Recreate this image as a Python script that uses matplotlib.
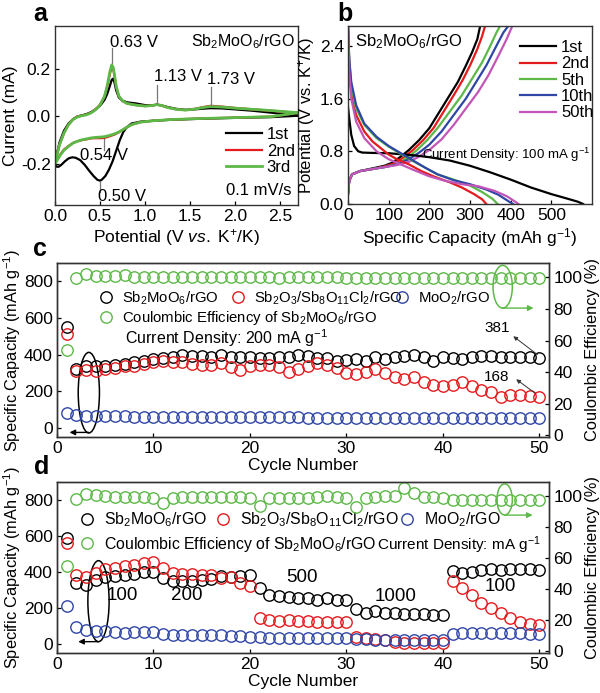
import numpy as np
import matplotlib
matplotlib.use('Agg')
import matplotlib.pyplot as plt
from matplotlib.patches import Ellipse
from matplotlib.lines import Line2D
from matplotlib.legend import Legend

plt.rcParams['font.family'] = ['Liberation Sans', 'DejaVu Sans']
plt.rcParams['mathtext.fontset'] = 'custom'
plt.rcParams['mathtext.rm'] = 'Liberation Sans'
plt.rcParams['mathtext.it'] = 'Liberation Sans:italic'
plt.rcParams['mathtext.bf'] = 'Liberation Sans:bold'
plt.rcParams['axes.linewidth'] = 1.0
plt.rcParams['axes.edgecolor'] = '#333333'

BLACK = 'black'
RED = '#e41a1c'
GREEN = '#5cb947'
BLUE = '#2f46a6'
MAG = '#c155b8'

# ---------------- panel a data (CV) ----------------
cv1_down_v = [2.7, 2.4, 2.0, 1.6, 1.3, 1.1, 0.95, 0.85, 0.8, 0.76, 0.72, 0.68, 0.64, 0.6, 0.56, 0.52, 0.5,
              0.47, 0.43, 0.38, 0.33, 0.28, 0.23, 0.19, 0.15, 0.11, 0.07, 0.04, 0.02, 0.0]
cv1_down_i = [0.003, -0.003, -0.006, -0.01, -0.014, -0.018, -0.022, -0.03, -0.045, -0.065, -0.1, -0.145, -0.19,
              -0.225, -0.252, -0.268, -0.272, -0.268, -0.253, -0.23, -0.205, -0.185, -0.175, -0.173, -0.178,
              -0.19, -0.205, -0.213, -0.213, -0.205]
cv_up_v = [0.0, 0.02, 0.05, 0.1, 0.15, 0.2, 0.25, 0.3, 0.35, 0.4, 0.45, 0.5, 0.55, 0.58, 0.61, 0.63, 0.645,
           0.66, 0.68, 0.71, 0.75, 0.8, 0.9, 1.0, 1.08, 1.13, 1.18, 1.25, 1.35, 1.45, 1.55, 1.65, 1.73, 1.85,
           2.0, 2.2, 2.4, 2.6, 2.7]
cv1_up_i = [-0.205, -0.16, -0.11, -0.06, -0.03, -0.012, 0.0, 0.005, 0.01, 0.018, 0.03, 0.045, 0.07, 0.095,
            0.13, 0.155, 0.16, 0.145, 0.11, 0.08, 0.067, 0.06, 0.055, 0.048, 0.047, 0.05, 0.047, 0.04, 0.032,
            0.028, 0.03, 0.033, 0.035, 0.034, 0.03, 0.024, 0.016, 0.008, 0.003]
cv2_up_i = [-0.2, -0.165, -0.12, -0.07, -0.035, -0.012, 0.0, 0.004, 0.008, 0.016, 0.03, 0.05, 0.085, 0.125,
            0.18, 0.21, 0.205, 0.175, 0.125, 0.085, 0.065, 0.055, 0.048, 0.044, 0.046, 0.05, 0.047, 0.038,
            0.03, 0.027, 0.032, 0.04, 0.045, 0.042, 0.036, 0.03, 0.024, 0.018, 0.015]
cv3_up_i = [-0.2, -0.165, -0.12, -0.07, -0.035, -0.013, -0.002, 0.003, 0.007, 0.015, 0.028, 0.048, 0.085,
            0.13, 0.19, 0.218, 0.21, 0.178, 0.127, 0.086, 0.066, 0.055, 0.048, 0.044, 0.046, 0.05, 0.047,
            0.038, 0.03, 0.027, 0.031, 0.038, 0.042, 0.04, 0.035, 0.03, 0.025, 0.019, 0.016]
cv_down_v = [2.7, 2.4, 2.0, 1.6, 1.3, 1.1, 0.95, 0.85, 0.78, 0.72, 0.66, 0.6, 0.56, 0.52, 0.48, 0.44, 0.4,
             0.35, 0.3, 0.25, 0.2, 0.15, 0.1, 0.06, 0.03, 0.0]
cv2_down_i = [0.015, -0.001, -0.005, -0.009, -0.013, -0.018, -0.024, -0.035, -0.05, -0.065, -0.077, -0.085,
              -0.09, -0.092, -0.092, -0.092, -0.093, -0.097, -0.1, -0.105, -0.112, -0.125, -0.14, -0.16,
              -0.18, -0.2]
cv3_down_i = [0.016, -0.001, -0.005, -0.009, -0.013, -0.018, -0.024, -0.035, -0.05, -0.064, -0.074, -0.081,
              -0.085, -0.087, -0.088, -0.089, -0.091, -0.095, -0.099, -0.105, -0.113, -0.127, -0.143, -0.163,
              -0.182, -0.2]

# ---------------- panel b data (GCD) ----------------
dis1_c = [0, 3, 8, 15, 25, 35, 60, 100, 130, 160, 200, 250, 300, 350, 400, 450, 500, 540, 565, 578]
dis1_v = [1.47, 1.3, 1.05, 0.88, 0.8, 0.78, 0.775, 0.77, 0.755, 0.74, 0.71, 0.66, 0.58, 0.48, 0.37, 0.25,
          0.15, 0.08, 0.035, 0.0]
dis2_c = [0, 2, 5, 10, 20, 40, 60, 80, 100, 120, 150, 180, 210, 250, 280, 310, 330, 340]
dis2_v = [2.7, 2.3, 1.9, 1.6, 1.35, 1.1, 0.95, 0.85, 0.75, 0.68, 0.6, 0.5, 0.42, 0.33, 0.25, 0.15, 0.07, 0.0]
dis5_c = [0, 3, 8, 20, 40, 70, 100, 130, 160, 190, 220, 260, 300, 330, 355, 368]
dis5_v = [2.7, 2.2, 1.8, 1.45, 1.2, 1.0, 0.87, 0.76, 0.65, 0.55, 0.45, 0.37, 0.28, 0.18, 0.08, 0.0]
dis10_c = [0, 3, 8, 20, 40, 70, 100, 130, 160, 190, 220, 260, 300, 340, 370, 395, 406]
dis10_v = [2.7, 2.2, 1.85, 1.5, 1.22, 1.02, 0.88, 0.77, 0.66, 0.55, 0.45, 0.36, 0.3, 0.22, 0.14, 0.04, 0.0]
dis50_c = [0, 3, 8, 20, 40, 70, 100, 130, 160, 200, 240, 280, 320, 360, 390, 410, 419]
dis50_v = [2.7, 2.0, 1.6, 1.25, 1.0, 0.8, 0.68, 0.6, 0.52, 0.42, 0.35, 0.3, 0.27, 0.2, 0.12, 0.04, 0.0]

chg1_c = [0, 3, 10, 30, 60, 90, 110, 130, 150, 175, 200, 225, 250, 270, 290, 305, 318, 325]
chg1_v = [0.15, 0.35, 0.45, 0.5, 0.54, 0.58, 0.63, 0.72, 0.82, 0.97, 1.15, 1.4, 1.65, 1.85, 2.1, 2.3, 2.5, 2.7]
chg2_c = [0, 3, 10, 30, 60, 90, 115, 135, 160, 185, 210, 235, 260, 282, 300, 318, 330, 337]
chg2_v = [0.15, 0.35, 0.45, 0.5, 0.53, 0.57, 0.62, 0.7, 0.82, 0.97, 1.15, 1.4, 1.65, 1.88, 2.1, 2.35, 2.55, 2.7]
chg5_c = [0, 3, 10, 30, 60, 90, 120, 145, 170, 195, 220, 250, 280, 305, 330, 350, 365, 374]
chg5_v = [0.15, 0.35, 0.45, 0.5, 0.53, 0.56, 0.6, 0.7, 0.82, 0.97, 1.15, 1.4, 1.65, 1.9, 2.15, 2.4, 2.6, 2.7]
chg10_c = [0, 3, 10, 30, 60, 90, 120, 150, 175, 200, 230, 260, 290, 315, 340, 365, 382, 394]
chg10_v = [0.15, 0.35, 0.45, 0.5, 0.53, 0.56, 0.6, 0.68, 0.78, 0.9, 1.1, 1.35, 1.6, 1.85, 2.1, 2.4, 2.6, 2.7]
chg50_c = [0, 3, 10, 30, 60, 90, 120, 150, 175, 200, 230, 260, 290, 320, 345, 370, 390, 404]
chg50_v = [0.15, 0.35, 0.45, 0.5, 0.53, 0.56, 0.59, 0.64, 0.72, 0.82, 0.98, 1.2, 1.45, 1.7, 1.95, 2.25, 2.5, 2.7]

# ---------------- panel c data ----------------
cycles = list(range(1, 51))
c_sbmo = [550, 320, 335, 335, 340, 345, 350, 360, 365, 375, 380, 385, 395, 390, 390, 385, 395, 385, 385, 385,
          380, 380, 385, 385, 400, 390, 380, 380, 365, 370, 375, 365, 385, 375, 385, 390, 400, 385, 365, 385,
          380, 375, 385, 390, 390, 385, 385, 385, 385, 381]
c_sbo = [510, 310, 315, 310, 320, 325, 335, 340, 350, 360, 365, 360, 360, 350, 345, 345, 355, 330, 315, 340,
         345, 345, 330, 305, 320, 340, 355, 345, 325, 300, 295, 305, 320, 300, 275, 265, 275, 250, 235, 230,
         235, 250, 230, 205, 195, 170, 180, 180, 175, 168]
c_moo = [80, 70, 65, 62, 62, 62, 62, 60, 60, 60, 60, 60, 60, 60, 58, 58, 58, 58, 58, 58, 58, 57, 57, 57, 57,
         56, 56, 56, 56, 55, 55, 55, 55, 54, 54, 54, 54, 54, 54, 54, 54, 54, 54, 53, 53, 53, 53, 53, 53, 53]
c_ce = [54, 99.5, 102, 101, 100.5, 100.5, 101.5, 100, 100, 100, 100, 100, 100, 100, 100, 100, 100, 100, 100,
        100, 100, 100, 99.5, 100, 100, 100, 100, 100, 100, 99.5, 99.5, 99.5, 99.5, 99.5, 99.5, 99.5, 99.5,
        99.5, 99.5, 99.5, 99.5, 99.5, 99.5, 99.5, 99.5, 99.5, 99.5, 99.5, 99.5, 99.5]

# ---------------- panel d data ----------------
d_sbmo = [590, 340, 330, 355, 370, 380, 385, 390, 400, 400, 365, 350, 350, 350, 355, 360, 380, 375, 380, 385,
          310, 275, 265, 260, 255, 255, 245, 255, 245, 245, 195, 175, 185, 175, 170, 165, 165, 165, 160, 160,
          405, 395, 400, 410, 415, 410, 415, 415, 415, 410]
d_sbo = [560, 385, 375, 395, 415, 420, 435, 440, 450, 455, 420, 395, 390, 390, 385, 385, 365, 375, 340, 320,
         145, 135, 130, 135, 130, 130, 125, 125, 125, 120, 40, 35, 30, 20, 10, 5, 5, 5, 5, 5,
         350, 310, 270, 230, 200, 170, 145, 125, 110, 105]
d_moo = [210, 95, 80, 75, 70, 65, 60, 65, 65, 65, 55, 50, 50, 50, 50, 50, 50, 45, 45, 40, 40, 35, 35, 35, 35,
         35, 35, 35, 35, 35, 30, 30, 25, 25, 25, 25, 25, 25, 25, 20, 55, 60, 60, 60, 60, 60, 60, 60, 55, 55]
d_ce = [55, 98.3, 101.5, 100.5, 100, 99.5, 99.5, 99.5, 99.5, 99, 95.5, 99, 99.5, 99.5, 99.5, 99.5, 99.5, 99.5,
        99.5, 99, 93.4, 98.5, 99, 99, 99, 99, 99.5, 100, 99.5, 99, 93, 99, 99.5, 100, 100, 105.3, 102, 99.5,
        99.5, 99, 97.5, 97.5, 97.5, 97.5, 97.5, 97.2, 97.5, 97.5, 97.2, 97.2]

legend_c = ['Sb$_2$MoO$_6$/rGO', 'Sb$_2$O$_3$/Sb$_8$O$_{11}$Cl$_2$/rGO', 'MoO$_2$/rGO',
            'Coulombic Efficiency of Sb$_2$MoO$_6$/rGO']

W, H = 600, 693
fig = plt.figure(figsize=(W / 100, H / 100), dpi=100)


def ax_px(l, t, r, b):
    return fig.add_axes([l / W, 1 - b / H, (r - l) / W, (b - t) / H])


TICK = 12.5
LAB = 12.5


def style(ax, right=False):
    ax.tick_params(direction='in', length=3, width=0.9, labelsize=TICK, top=False, right=right, pad=3)


# ================= panel a =================
axa = ax_px(55, 26, 298, 205)
axa.plot(cv1_down_v + cv_up_v, cv1_down_i + cv1_up_i, color=BLACK, lw=1.6, label='1st')
axa.plot(cv_down_v + cv_up_v, cv2_down_i + cv2_up_i, color=RED, lw=1.6, label='2nd')
axa.plot(cv_down_v + cv_up_v, cv3_down_i + cv3_up_i, color=GREEN, lw=2.0, label='3rd')
axa.set_xlim(0, 2.7)
axa.set_ylim(-0.375, 0.383)
axa.set_xticks([0, 0.5, 1.0, 1.5, 2.0, 2.5])
axa.set_xticklabels(['0.0', '0.5', '1.0', '1.5', '2.0', '2.5'])
axa.set_yticks([-0.2, 0.0, 0.2])
axa.set_yticklabels(['-0.2', '0.0', '0.2'])
style(axa)
axa.set_xlabel('Potential (V $\\mathit{vs.}$ K$^{+}$/K)', fontsize=LAB, labelpad=2)
axa.set_ylabel('Current (mA)', fontsize=LAB, labelpad=2)
for x0, y0, y1 in [(0.63, 0.228, 0.29), (1.13, 0.058, 0.135), (1.73, 0.05, 0.123),
                   (0.54, -0.096, -0.14), (0.5, -0.278, -0.318)]:
    axa.plot([x0, x0], [y0, y1], color='#777777', lw=0.9)
axa.text(0.61, 0.315, '0.63 V', fontsize=12, va='center')
axa.text(1.1, 0.168, '1.13 V', fontsize=12, va='center')
axa.text(1.69, 0.158, '1.73 V', fontsize=12, va='center')
axa.text(0.55, -0.166, '0.54 V', fontsize=12, va='center', ha='center')
axa.text(0.48, -0.337, '0.50 V', fontsize=12, va='center')
axa.text(2.66, 0.315, 'Sb$_2$MoO$_6$/rGO', fontsize=11.5, va='center', ha='right')
axa.legend(loc='upper right', bbox_to_anchor=(1.0, 0.455), frameon=False, fontsize=12,
           handlelength=2.2, handletextpad=0.25, labelspacing=0.1, borderpad=0.1, borderaxespad=0.1)
axa.text(2.63, -0.315, '0.1 mV/s', fontsize=12, va='center', ha='right')
fig.text(40 / W, 1 - 14 / H, 'a', fontsize=18, fontweight='bold', ha='center', va='center')

# ================= panel b =================
axb = ax_px(348, 26, 592, 204)
for cc, vv, col, lab in [(chg1_c, chg1_v, BLACK, '1st'), (chg2_c, chg2_v, RED, '2nd'),
                         (chg5_c, chg5_v, GREEN, '5th'), (chg10_c, chg10_v, BLUE, '10th'),
                         (chg50_c, chg50_v, MAG, '50th')]:
    axb.plot(cc, vv, color=col, lw=1.6, label=lab)
for cc, vv, col in [(dis1_c, dis1_v, BLACK), (dis2_c, dis2_v, RED), (dis5_c, dis5_v, GREEN),
                    (dis10_c, dis10_v, BLUE), (dis50_c, dis50_v, MAG)]:
    axb.plot(cc, vv, color=col, lw=1.6)
axb.set_xlim(0, 600)
axb.set_ylim(0, 2.7)
axb.set_xticks([0, 100, 200, 300, 400, 500])
axb.set_yticks([0.0, 0.8, 1.6, 2.4])
axb.set_yticklabels(['0.0', '0.8', '1.6', '2.4'])
style(axb)
axb.set_xlabel('Specific Capacity (mAh g$^{-1}$)', fontsize=LAB, labelpad=2)
axb.set_ylabel('Potential (V vs. K$^{+}$/K)', fontsize=12, labelpad=2)
axb.text(17, 2.46, 'Sb$_2$MoO$_6$/rGO', fontsize=12, va='center')
axb.legend(loc='upper right', bbox_to_anchor=(1.02, 0.94), frameon=False, fontsize=12,
           handlelength=2.2, handletextpad=0.3, labelspacing=0.08, borderpad=0.1, borderaxespad=0.1)
axb.text(597, 0.74, 'Current Density: 100 mA g$^{-1}$', fontsize=9.5, va='center', ha='right')
fig.text(345 / W, 1 - 14 / H, 'b', fontsize=18, fontweight='bold', ha='center', va='center')


# ================= panels c & d =================
def mk(color):
    return dict(ls='none', marker='o', mfc='none', mec=color, ms=8.2, mew=1.0)


def leg(ax, color, label, xpx, ypx, fs):
    h = Line2D([], [], **mk(color))
    hl = 1.0
    lg = Legend(ax, [h], [label], loc='center left',
                bbox_to_anchor=((xpx - hl * fs / 0.72 / 2) / W, 1 - ypx / H),
                bbox_transform=fig.transFigure, frameon=False, borderpad=0, borderaxespad=0,
                handlelength=hl, handletextpad=0.55, fontsize=fs)
    ax.add_artist(lg)


def cycle_panel(top, bottom, sbmo, sbo, moo, ce):
    ax = ax_px(57, top, 549, bottom)
    ax2 = ax.twinx()
    ax.plot(cycles, sbmo, **mk(BLACK))
    ax.plot(cycles, sbo, **mk(RED))
    ax.plot(cycles, moo, **mk(BLUE))
    ax2.plot(cycles, ce, **mk(GREEN))
    ax.set_xlim(0, 51)
    ax.set_ylim(-50, 900)
    ax2.set_ylim(-1, 109)
    ax.set_xticks([0, 10, 20, 30, 40, 50])
    ax.set_yticks([0, 200, 400, 600, 800])
    ax2.set_yticks([0, 20, 40, 60, 80, 100])
    style(ax)
    ax2.tick_params(direction='in', length=3, width=0.9, labelsize=TICK, pad=3)
    ax.set_xlabel('Cycle Number', fontsize=LAB, labelpad=1)
    ax.set_ylabel('Specific Capacity (mAh g$^{-1}$)', fontsize=11.8, labelpad=1)
    ax2.set_ylabel('Coulombic Efficiency (%)', fontsize=11.8, labelpad=2)
    return ax, ax2


# ---- c ----
axc, axc2 = cycle_panel(263, 437, c_sbmo, c_sbo, c_moo, c_ce)
leg(axc, BLACK, legend_c[0], 106, 298, 10.7)
leg(axc, RED, legend_c[1], 238, 298, 10.7)
leg(axc, BLUE, legend_c[2], 402, 298, 10.7)
leg(axc, GREEN, legend_c[3], 106, 318, 10.7)
axc.text(7.1, 492, 'Current Density: 200 mA g$^{-1}$', fontsize=11.5, va='center')
axc.add_patch(Ellipse((3.3, 192), 2.2, 440, fill=False, ec='black', lw=1.1))
axc.annotate('', xy=(1.3, -25), xytext=(3.3, -25),
             arrowprops=dict(arrowstyle='-|>', color='black', lw=1.0, mutation_scale=8, shrinkA=0, shrinkB=0))
axc2.add_patch(Ellipse((46.2, 94), 2.0, 27, fill=False, ec=GREEN, lw=1.1))
axc2.annotate('', xy=(49.4, 80.5), xytext=(46.2, 80.5),
              arrowprops=dict(arrowstyle='-|>', color=GREEN, lw=1.0, mutation_scale=8, shrinkA=0, shrinkB=0))
axc.text(45.6, 544, '381', fontsize=11, va='center', ha='center')
axc.annotate('', xy=(47.3, 500), xytext=(49.8, 400),
             arrowprops=dict(arrowstyle='-|>', color='#333333', lw=0.7, mutation_scale=6, shrinkA=0, shrinkB=0))
axc.text(45.6, 279, '168', fontsize=11, va='center', ha='center')
axc.annotate('', xy=(47.6, 265), xytext=(49.6, 188),
             arrowprops=dict(arrowstyle='-|>', color='#333333', lw=0.7, mutation_scale=6, shrinkA=0, shrinkB=0))
fig.text(40 / W, 1 - 249 / H, 'c', fontsize=18, fontweight='bold', ha='center', va='center')

# ---- d ----
axd, axd2 = cycle_panel(482, 653, d_sbmo, d_sbo, d_moo, d_ce)
leg(axd, BLACK, legend_c[0], 87, 520, 11.4)
leg(axd, RED, legend_c[1], 223, 520, 11.4)
leg(axd, BLUE, legend_c[2], 407, 520, 11.4)
leg(axd, GREEN, legend_c[3], 87, 544, 11.4)
axd.text(50.1, 548, 'Current Density: mA g$^{-1}$', fontsize=11, va='center', ha='right')
axd.add_patch(Ellipse((4.3, 238), 2.2, 450, fill=False, ec='black', lw=1.1))
axd.annotate('', xy=(2.2, 13), xytext=(4.3, 13),
             arrowprops=dict(arrowstyle='-|>', color='black', lw=1.0, mutation_scale=8, shrinkA=0, shrinkB=0))
axd2.add_patch(Ellipse((46.4, 97.8), 1.6, 20, fill=False, ec=GREEN, lw=1.1))
axd2.annotate('', xy=(49.3, 87.7), xytext=(46.4, 87.7),
              arrowprops=dict(arrowstyle='-|>', color=GREEN, lw=1.0, mutation_scale=8, shrinkA=0, shrinkB=0))
for xx, yy, tt in [(6.8, 270, '100'), (13.5, 270, '200'), (25.4, 367, '500'), (35.1, 264, '1000'),
                   (46.0, 318, '100')]:
    axd.text(xx, yy, tt, fontsize=13.5, va='center', ha='center')
fig.text(42 / W, 1 - 467 / H, 'd', fontsize=18, fontweight='bold', ha='center', va='center')

fig.savefig('out.png', dpi=100)
